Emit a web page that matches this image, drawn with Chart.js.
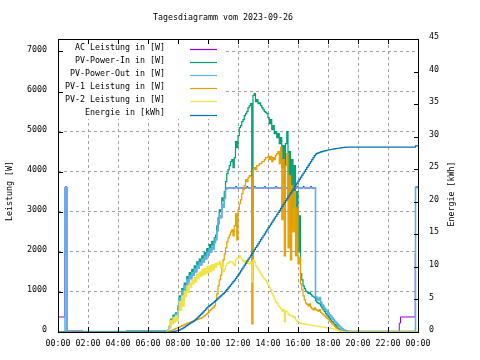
<!DOCTYPE html>
<html><head><meta charset="utf-8">
<script src="https://cdn.jsdelivr.net/npm/chart.js@4/dist/chart.umd.min.js"></script>
<style>html,body{margin:0;padding:0;background:#fff;}canvas{display:block;}</style>
</head><body>
<canvas id="c" width="480" height="360"></canvas>
<script>
const chartTitle = 'Tagesdiagramm vom 2023-09-26';
const yTitle = 'Leistung [W]';
const y2Title = 'Energie [kWh]';
const seriesNames = ['AC Leistung in [W]','PV-Power-In in [W]','PV-Power-Out in [W]','PV-1 Leistung in [W]','PV-2 Leistung in [W]','Energie in [kWh]'];
const seriesColors = ['#9400d3','#009e73','#56b4e9','#e69f00','#f0e442','#0072b2'];
const xTickValues = [0,2,4,6,8,10,12,14,16,18,20,22,24];
const xTickLabels = ['00:00','02:00','04:00','06:00','08:00','10:00','12:00','14:00','16:00','18:00','20:00','22:00','00:00'];
const yTickValues = [0,1000,2000,3000,4000,5000,6000,7000];
const y2TickValues = [0,5,10,15,20,25,30,35,40,45];

const times = [
'00:00','00:26','00:28','00:36','01:40','04:35','07:10',
'07:15','07:20','07:25','07:30','07:35','07:40','07:45','07:50','07:55',
'08:00','08:05','08:10','08:15','08:20','08:25','08:30','08:35','08:40','08:45','08:50','08:55',
'09:00','09:05','09:10','09:15','09:20','09:25','09:30','09:35','09:40','09:45','09:50','09:55',
'10:00','10:05','10:10','10:15','10:20','10:25','10:30','10:35','10:40','10:45','10:50','10:55',
'11:00','11:05','11:10','11:15','11:20','11:25','11:30','11:35','11:40','11:45','11:50','11:55',
'12:00','12:05','12:10','12:15','12:20','12:25','12:30','12:35','12:40','12:45','12:50','12:55',
'13:00','13:05','13:10','13:15','13:20','13:25','13:30','13:35','13:40','13:45','13:50','13:55',
'14:00','14:05','14:10','14:15','14:20','14:25','14:30','14:35','14:40','14:45','14:50','14:55',
'15:00','15:05','15:10','15:15','15:20','15:25','15:30','15:35','15:40','15:45','15:50','15:55',
'16:00','16:05','16:10','16:15','16:20','16:25','16:30','16:35','16:40','16:45','16:50','16:55',
'17:00','17:05','17:10','17:15','17:20','17:25','17:30','17:35','17:40','17:45','17:50','17:55',
'18:00','18:05','18:10','18:15','18:20','18:25','18:30','18:35','18:40','18:45','18:50','18:55',
'19:00','19:05','19:10','19:15','19:20','19:25','19:30',
'20:00','20:05','22:45','22:50','23:49','23:50','24:00'
];

const acPower = [
375,1950,3620,25,0,0,0,
10,40,110,280,220,380,300,440,350,
600,850,680,1020,800,1160,1040,1310,1190,1400,1330,1480,
1420,1570,1500,1660,1600,1730,1670,1800,1750,1880,1820,1970,
1920,2070,1990,2140,2070,2230,2300,2520,2700,2900,2850,3180,
3120,3330,3560,3590,3590,3590,3590,3590,3590,3590,3630,3590,
3590,3590,3590,3590,3590,3590,3590,3630,3590,3590,3590,3590,
3590,3630,3590,3590,3590,3590,3590,3590,3590,3630,3590,3590,
3590,3590,3590,3590,3590,3590,3630,3590,3590,3590,3590,3590,
3630,3590,3590,3590,3590,3590,3630,3590,3590,3590,3590,3630,
3590,3590,3590,3590,3630,3590,3590,3590,3590,3590,3630,3590,
3590,3590,880,820,800,860,740,680,640,590,550,510,
470,430,390,350,310,270,240,200,170,140,110,80,
55,40,30,0,0,0,0,
30,0,220,375,1950,3620,3620
];

const pvPowerIn = [
0,0,0,0,0,0,0,
20,60,140,320,250,420,330,480,380,
650,900,720,1080,850,1220,1100,1380,1250,1480,1400,1560,
1500,1650,1580,1750,1680,1820,1760,1900,1840,1980,1920,2080,
2020,2180,2100,2260,2180,2350,2420,2650,2850,3050,3000,3350,
3280,3500,3750,3950,4050,4150,4250,4300,4100,4350,4750,4600,
4900,5100,5150,5250,5300,5400,5450,5500,5600,5650,5700,1300,
5900,5950,5750,5800,5700,5720,5650,5600,5550,5500,5480,5450,
5350,5200,5300,5050,5150,4950,5000,4850,4950,4700,4850,4100,
4650,3700,4700,5000,3300,4500,2600,4300,3100,4150,2400,3500,
2000,2900,1450,1300,1150,1080,1020,1000,960,980,940,900,
880,860,780,740,720,700,650,600,560,510,460,420,
385,340,300,260,220,190,160,120,90,60,40,20,
0,0,0,0,0,0,0,
0,0,0,0,0,0,0
];

const pvPowerOut = [
0,0,3600,10,10,30,10,
10,40,110,280,220,380,300,440,350,
600,850,680,1020,800,1160,1040,1310,1190,1400,1330,1480,
1420,1570,1500,1660,1600,1730,1670,1800,1750,1880,1820,1970,
1920,2070,1990,2140,2070,2230,2300,2520,2700,2900,2850,3180,
3120,3330,3560,3600,3600,3600,3600,3600,3600,3600,3600,3600,
3600,3600,3600,3600,3600,3600,3600,3600,3600,3600,3600,3600,
3600,3600,3600,3600,3600,3600,3600,3600,3600,3600,3600,3600,
3600,3600,3600,3600,3600,3600,3600,3600,3600,3600,3600,3600,
3600,3600,3600,3600,3600,3600,3600,3600,3600,3600,3600,3600,
3600,3600,3600,3600,3600,3600,3600,3600,3600,3600,3600,3600,
3600,3600,880,820,800,860,740,680,640,590,550,510,
470,430,390,350,310,270,240,200,170,140,110,80,
55,40,30,25,22,20,20,
20,20,20,20,20,3600,3600
];

const pv1Power = [
0,0,0,0,0,0,0,
0,10,20,30,40,60,70,90,100,
110,130,140,160,170,190,200,220,230,240,250,260,
270,290,300,310,320,330,340,360,380,410,430,460,
490,530,560,590,620,660,780,950,1150,1300,1420,1650,
1800,1950,2100,2250,2350,2420,2500,2550,2400,2650,2950,2300,
3050,3200,3300,3450,3550,3650,3800,3750,3850,3900,3880,200,
4050,4100,4050,4150,4150,4200,4200,4250,4250,4300,4350,4350,
4380,4300,4380,4250,4350,4300,4400,4450,4500,4200,4600,2800,
4300,1900,4150,4450,2100,3900,1800,3650,2500,3500,1900,3100,
1700,1850,1200,1050,900,800,720,690,650,700,620,580,
550,600,560,540,520,560,490,460,430,400,370,340,
320,280,240,210,180,140,110,80,50,30,15,5,
0,0,0,0,0,0,0,
0,0,0,0,0,0,0
];

const pv2Power = [
0,0,0,0,0,0,0,
20,50,120,290,200,360,240,400,280,
520,760,540,900,640,1020,880,1140,980,1220,1120,1300,
1200,1360,1250,1450,1330,1500,1380,1560,1420,1580,1450,1620,
1480,1650,1500,1680,1540,1700,1620,1720,1680,1760,1600,1720,
1500,1560,1650,1720,1720,1750,1760,1750,1700,1650,1800,1850,
1850,1900,1850,1800,1750,1780,1700,1780,1720,1700,1750,1250,
1800,1750,1650,1620,1560,1500,1450,1400,1350,1320,1280,1220,
1160,1100,1050,960,900,820,760,720,660,620,580,520,
560,260,520,500,440,420,400,410,360,380,300,270,
250,230,220,210,200,195,190,185,180,175,170,165,
160,155,150,145,140,135,130,125,120,115,110,105,
100,95,90,85,80,70,60,50,40,30,20,10,
0,0,0,0,0,0,0,
0,0,0,0,0,0,0
];

const energyKWh = [
0,0,0,0,0,0,0,
0,0,0,0.02,0.04,0.07,0.10,0.14,0.19,
0.25,0.33,0.42,0.52,0.63,0.76,0.89,1.02,1.15,1.28,1.40,1.52,
1.64,1.80,1.97,2.14,2.32,2.51,2.70,2.90,3.10,3.30,3.50,3.70,
3.88,4.04,4.20,4.36,4.53,4.70,4.87,5.04,5.21,5.38,5.55,5.72,
5.90,6.10,6.32,6.55,6.78,7.02,7.26,7.50,7.74,7.98,8.24,8.50,
8.78,9.08,9.38,9.68,9.98,10.28,10.58,10.88,11.18,11.48,11.78,12.08,
12.38,12.68,12.98,13.28,13.58,13.88,14.18,14.48,14.78,15.08,15.38,15.68,
15.98,16.28,16.58,16.88,17.18,17.48,17.78,18.08,18.38,18.68,18.98,19.28,
19.58,19.88,20.18,20.48,20.78,21.08,21.38,21.68,21.98,22.28,22.58,22.88,
23.18,23.48,23.78,24.08,24.38,24.68,24.98,25.28,25.58,25.88,26.18,26.48,
26.78,27.08,27.32,27.42,27.50,27.58,27.65,27.71,27.77,27.82,27.87,27.91,
27.95,27.99,28.03,28.07,28.10,28.13,28.16,28.19,28.22,28.25,28.28,28.31,
28.34,28.36,28.38,28.40,28.40,28.40,28.40,
28.40,28.40,28.40,28.40,28.40,28.60,28.60
];

const toHours = t => { const p = t.split(':'); return Number(p[0]) + Number(p[1]) / 60; };
const pts = vals => times.map((t, i) => ({ x: toHours(t), y: vals[i] }));

const FONT_FAMILY = '"DejaVu Sans Mono", "Liberation Mono", monospace';
const FONT_SIZE = 8.3;
const tickFont = { family: FONT_FAMILY, size: FONT_SIZE };
const lineWidths = [1, 1.2, 1.6, 1.2, 1.2, 1.2];

const seriesData = [acPower, pvPowerIn, pvPowerOut, pv1Power, pv2Power, energyKWh];
const datasets = seriesData.map((vals, i) => ({
  label: seriesNames[i],
  data: pts(vals),
  borderColor: seriesColors[i],
  backgroundColor: seriesColors[i],
  borderWidth: lineWidths[i],
  yAxisID: i === 5 ? 'y2' : 'y',
  order: 6 - i
}));

const edgeHidden = (edges) => (c) => (c.tick && edges.includes(c.tick.value)) ? 'rgba(0,0,0,0)' : '#a0a0a0';

const deco = {
  id: 'deco',
  afterDatasetsDraw(chart) {
    const { ctx, chartArea: a, scales } = chart;
    ctx.save();
    ctx.fillStyle = '#ffffff';
    ctx.fillRect(a.left + 1, a.top + 1, 165, 79);
    ctx.setLineDash([]);
    ctx.strokeStyle = '#000';
    ctx.lineWidth = 1;
    ctx.strokeRect(a.left + 0.5, a.top + 0.5, a.right - a.left, a.bottom - a.top);
    ctx.beginPath();
    scales.x.ticks.forEach(t => {
      const p = Math.round(scales.x.getPixelForValue(t.value)) + 0.5;
      ctx.moveTo(p, a.bottom); ctx.lineTo(p, a.bottom - 5);
      ctx.moveTo(p, a.top); ctx.lineTo(p, a.top + 5);
    });
    scales.y.ticks.forEach(t => {
      const p = Math.round(scales.y.getPixelForValue(t.value)) + 0.5;
      ctx.moveTo(a.left, p); ctx.lineTo(a.left + 5, p);
    });
    scales.y2.ticks.forEach(t => {
      const p = Math.round(scales.y2.getPixelForValue(t.value)) + 0.5;
      ctx.moveTo(a.right + 1, p); ctx.lineTo(a.right - 4, p);
    });
    ctx.stroke();
    ctx.fillStyle = '#000';
    ctx.font = FONT_SIZE + 'px ' + FONT_FAMILY;
    ctx.textBaseline = 'middle';
    ctx.textAlign = 'center';
    ctx.fillText(chartTitle, 223, 18);
    ctx.save();
    ctx.translate(10, 191); ctx.rotate(-Math.PI / 2);
    ctx.fillText(yTitle, 0, 0);
    ctx.restore();
    ctx.save();
    ctx.translate(452, 194); ctx.rotate(-Math.PI / 2);
    ctx.fillText(y2Title, 0, 0);
    ctx.restore();
    ctx.textAlign = 'right';
    seriesNames.forEach((name, i) => {
      const ly = 49 + i * 13.1;
      ctx.fillStyle = '#000';
      ctx.fillText(name, 165, ly - 1.5);
      ctx.strokeStyle = seriesColors[i];
      ctx.lineWidth = 1.2;
      ctx.beginPath();
      ctx.moveTo(190, Math.round(ly) + 0.5);
      ctx.lineTo(217, Math.round(ly) + 0.5);
      ctx.stroke();
    });
    ctx.restore();
  }
};

new Chart(document.getElementById('c'), {
  type: 'line',
  data: { datasets },
  options: {
    responsive: false,
    animation: false,
    devicePixelRatio: 1,
    layout: { padding: { top: 39, left: 0, right: 0, bottom: 0 } },
    plugins: { legend: { display: false }, title: { display: false }, tooltip: { enabled: false } },
    elements: {
      point: { radius: 0 },
      line: { borderWidth: 1, stepped: true, tension: 0, fill: false }
    },
    scales: {
      x: {
        type: 'linear', min: 0, max: 24,
        afterFit: s => { s.height = 28; },
        afterBuildTicks: s => { s.ticks = xTickValues.map(v => ({ value: v })); },
        ticks: { callback: (v, i) => xTickLabels[i], maxRotation: 0, autoSkip: false, font: tickFont, color: '#000', padding: 7 },
        grid: { color: edgeHidden([0, 24]), drawTicks: false, lineWidth: 1 },
        border: { display: false, dash: [3, 3] }
      },
      y: {
        type: 'linear', position: 'left', min: 0, max: 7310,
        afterFit: s => { s.width = 58; },
        afterBuildTicks: s => { s.ticks = yTickValues.map(v => ({ value: v })); },
        ticks: { callback: v => String(v), font: tickFont, color: '#000', padding: 11, labelOffset: -2, autoSkip: false },
        grid: { color: edgeHidden([0]), drawTicks: false, lineWidth: 1 },
        border: { display: false, dash: [3, 3] }
      },
      y2: {
        type: 'linear', position: 'right', min: 0, max: 45,
        afterFit: s => { s.width = 62; },
        afterBuildTicks: s => { s.ticks = y2TickValues.map(v => ({ value: v })); },
        ticks: { callback: v => String(v), font: tickFont, color: '#000', padding: 11, labelOffset: -2, autoSkip: false },
        grid: { drawOnChartArea: false, drawTicks: false },
        border: { display: false }
      }
    }
  },
  plugins: [deco]
});
</script>
</body></html>
